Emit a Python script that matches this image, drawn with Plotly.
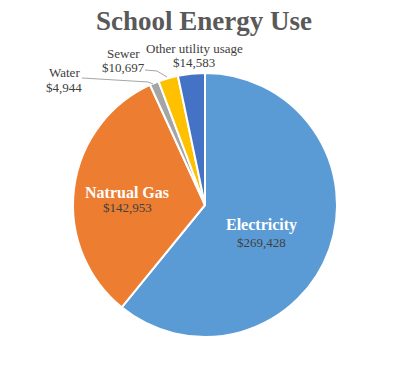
import plotly.graph_objects as go

categories = ["Electricity", "Natrual Gas", "Water", "Sewer", "Other utility usage"]
values = [269428, 142953, 4944, 10697, 14583]
colors = ["#5B9BD5", "#ED7D31", "#A5A5A5", "#FFC000", "#4472C4"]

W, H = 408, 369

def px(x):
    return x / W

def py(y):
    return 1 - y / H

fig = go.Figure(go.Pie(
    labels=categories,
    values=values,
    sort=False,
    direction="clockwise",
    rotation=0,
    marker=dict(colors=colors, line=dict(color="white", width=2)),
    textinfo="none",
    hoverinfo="label+value",
    showlegend=False,
    domain=dict(x=[px(73), px(337)], y=[py(337), py(73)]),
))

serif = "Liberation Serif, Times New Roman, serif"
label_pos = {
    "Electricity": (261, 225, 242, True),
    "Natrual Gas": (127, 192, 208, True),
    "Water": (64, 73, 88, False),
    "Sewer": (124, 53, 67, False),
    "Other utility usage": (194, 48, 62, False),
}
ann = []
for cat, val in zip(categories, values):
    x, y1, y2, inside = label_pos[cat]
    if inside:
        ann.append(dict(x=px(x), y=py(y1), text="<b>%s</b>" % cat, showarrow=False,
                        font=dict(family=serif, size=16, color="white"),
                        xref="paper", yref="paper", xanchor="center", yanchor="middle"))
        ann.append(dict(x=px(x), y=py(y2), text="${:,}".format(val), showarrow=False,
                        font=dict(family=serif, size=13, color="#404040"),
                        xref="paper", yref="paper", xanchor="center", yanchor="middle"))
    else:
        ann.append(dict(x=px(x), y=py(y1), text=cat, showarrow=False,
                        font=dict(family=serif, size=13, color="#404040"),
                        xref="paper", yref="paper", xanchor="center", yanchor="middle"))
        ann.append(dict(x=px(x), y=py(y2), text="${:,}".format(val), showarrow=False,
                        font=dict(family=serif, size=13, color="#404040"),
                        xref="paper", yref="paper", xanchor="center", yanchor="middle"))

shapes = [
    dict(type="path", path="M %f %f L %f %f L %f %f" % (px(82), py(78), px(148), py(82), px(153), py(84)),
         xref="paper", yref="paper", line=dict(color="#A6A6A6", width=1)),
    dict(type="path", path="M %f %f L %f %f L %f %f" % (px(145), py(70), px(157), py(71), px(167), py(77)),
         xref="paper", yref="paper", line=dict(color="#A6A6A6", width=1)),
]

fig.update_layout(
    width=W, height=H,
    margin=dict(l=0, r=0, t=0, b=0),
    paper_bgcolor="white",
    plot_bgcolor="white",
    title=dict(text="<b>School Energy Use</b>", x=0.5, xanchor="center",
               y=py(21), yanchor="middle",
               font=dict(family=serif, size=27, color="#595959")),
    annotations=ann,
    shapes=shapes,
)

fig.write_html("out.html", config={"displayModeBar": False},
               post_script="document.body.style.margin='0';")
